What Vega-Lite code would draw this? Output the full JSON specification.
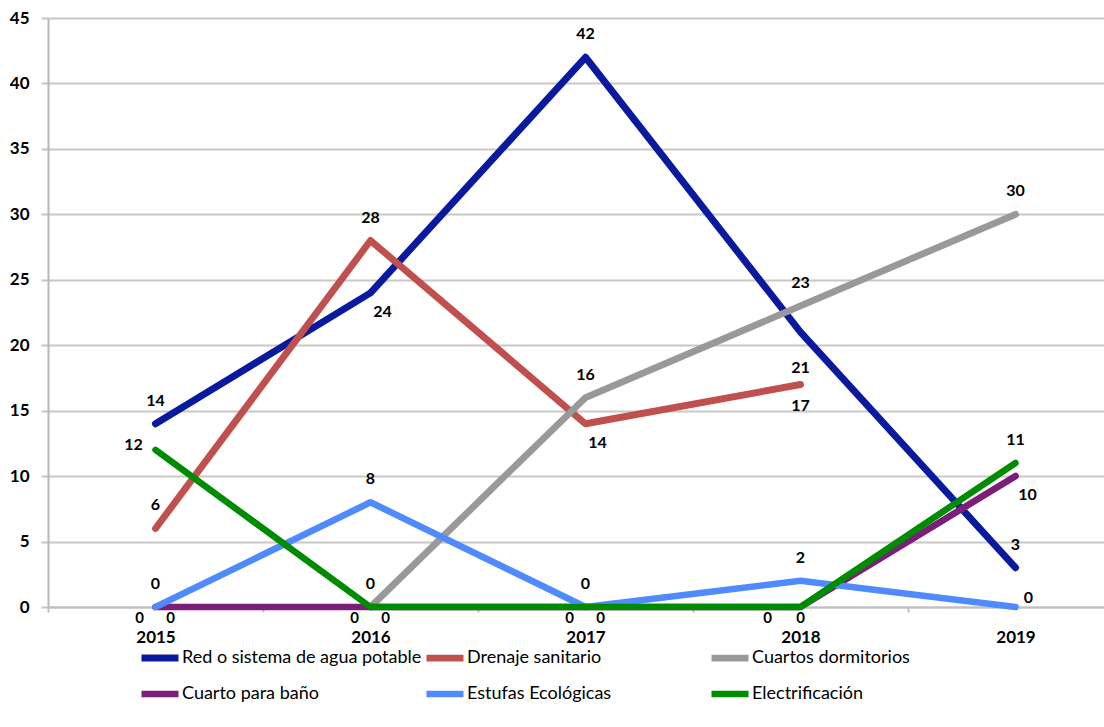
{
  "$schema": "https://vega.github.io/schema/vega-lite/v6.json",
  "width": 1056,
  "height": 589,
  "autosize": {"type": "none"},
  "padding": {"left": 48, "top": 18, "right": 0, "bottom": 120},
  "background": "white",
  "config": {
    "view": {"stroke": null},
    "font": "Lato",
    "text": {"font": "Lato"}
  },
  "data": {
    "values": [
      {"series": "Red o sistema de agua potable", "year": "2015", "value": 14},
      {"series": "Red o sistema de agua potable", "year": "2016", "value": 24},
      {"series": "Red o sistema de agua potable", "year": "2017", "value": 42},
      {"series": "Red o sistema de agua potable", "year": "2018", "value": 21},
      {"series": "Red o sistema de agua potable", "year": "2019", "value": 3},
      {"series": "Drenaje sanitario", "year": "2015", "value": 6},
      {"series": "Drenaje sanitario", "year": "2016", "value": 28},
      {"series": "Drenaje sanitario", "year": "2017", "value": 14},
      {"series": "Drenaje sanitario", "year": "2018", "value": 17},
      {"series": "Cuartos dormitorios", "year": "2015", "value": 0},
      {"series": "Cuartos dormitorios", "year": "2016", "value": 0},
      {"series": "Cuartos dormitorios", "year": "2017", "value": 16},
      {"series": "Cuartos dormitorios", "year": "2018", "value": 23},
      {"series": "Cuartos dormitorios", "year": "2019", "value": 30},
      {"series": "Cuarto para baño", "year": "2015", "value": 0},
      {"series": "Cuarto para baño", "year": "2016", "value": 0},
      {"series": "Cuarto para baño", "year": "2017", "value": 0},
      {"series": "Cuarto para baño", "year": "2018", "value": 0},
      {"series": "Cuarto para baño", "year": "2019", "value": 10},
      {"series": "Estufas Ecológicas", "year": "2015", "value": 0},
      {"series": "Estufas Ecológicas", "year": "2016", "value": 8},
      {"series": "Estufas Ecológicas", "year": "2017", "value": 0},
      {"series": "Estufas Ecológicas", "year": "2018", "value": 2},
      {"series": "Estufas Ecológicas", "year": "2019", "value": 0},
      {"series": "Electrificación", "year": "2015", "value": 12},
      {"series": "Electrificación", "year": "2016", "value": 0},
      {"series": "Electrificación", "year": "2017", "value": 0},
      {"series": "Electrificación", "year": "2018", "value": 0},
      {"series": "Electrificación", "year": "2019", "value": 11}
    ]
  },
  "encoding": {
    "x": {
      "field": "year",
      "type": "ordinal",
      "scale": {"type": "band", "range": [0, 1075], "paddingInner": 0, "paddingOuter": 0},
      "axis": {
        "title": null,
        "labelAngle": 0,
        "labelFontSize": 17,
        "labelFontWeight": "bold",
        "labelColor": "black",
        "labelPadding": 17,
        "tickBand": "extent",
        "tickSize": 5,
        "tickColor": "#c0c0c0",
        "tickWidth": 2,
        "domainColor": "#c0c0c0",
        "domainWidth": 2,
        "grid": false
      }
    },
    "y": {
      "field": "value",
      "type": "quantitative",
      "scale": {"domain": [0, 45], "nice": false},
      "axis": {
        "title": null,
        "values": [0, 5, 10, 15, 20, 25, 30, 35, 40, 45],
        "labelFontSize": 17,
        "labelFontWeight": "bold",
        "labelColor": "black",
        "labelPadding": 12,
        "tickSize": 7,
        "tickColor": "#c4c4c4",
        "tickWidth": 2,
        "domainColor": "#b8b8b8",
        "domainWidth": 2,
        "gridColor": "#c8c8c8",
        "gridWidth": 2
      }
    }
  },
  "layer": [
    {
      "transform": [{"filter": "!(datum.series == 'Cuartos dormitorios' && datum.year == '2015')"}],
      "mark": {"type": "line", "strokeCap": "round", "strokeJoin": "round"},
      "encoding": {
        "color": {
          "field": "series",
          "type": "nominal",
          "sort": null,
          "scale": {
            "domain": ["Red o sistema de agua potable", "Drenaje sanitario", "Cuartos dormitorios", "Cuarto para baño", "Estufas Ecológicas", "Electrificación"],
            "range": ["#0A1A9F", "#C0504D", "#999999", "#7B1E7A", "#4F8BFF", "#008C00"]
          },
          "legend": {
            "orient": "none",
            "legendX": 90,
            "legendY": 618,
            "direction": "horizontal",
            "columns": 3,
            "title": null,
            "symbolType": "stroke",
            "symbolSize": 1369,
            "symbolStrokeWidth": 7,
            "labelFontSize": 18,
            "labelColor": "black",
            "labelLimit": 400,
            "labelOffset": 0,
            "gridAlign": "all",
            "columnPadding": -10,
            "rowPadding": -3,
            "padding": 0
          }
        },
        "strokeWidth": {
          "field": "series",
          "type": "nominal",
          "scale": {
            "domain": ["Red o sistema de agua potable", "Drenaje sanitario", "Cuartos dormitorios", "Cuarto para baño", "Estufas Ecológicas", "Electrificación"],
            "range": [7, 6.5, 7, 5, 7, 6.5]
          },
          "legend": null
        }
      }
    },
    {
      "transform": [{"filter": "indexof(['Red o sistema de agua potable|2015','Red o sistema de agua potable|2017','Red o sistema de agua potable|2019','Drenaje sanitario|2015','Drenaje sanitario|2016','Cuartos dormitorios|2017','Cuartos dormitorios|2018','Cuartos dormitorios|2019','Estufas Ecológicas|2015','Estufas Ecológicas|2016','Estufas Ecológicas|2017','Estufas Ecológicas|2018','Electrificación|2016','Electrificación|2019'], datum.series + '|' + datum.year) >= 0"}],
      "mark": {"type": "text", "dy": -23, "fontWeight": "bold", "fontSize": 16, "color": "black", "baseline": "middle"},
      "encoding": {"text": {"field": "value", "type": "quantitative", "format": ".0f"}}
    },
    {
      "transform": [{"filter": "indexof(['Red o sistema de agua potable|2016','Drenaje sanitario|2017','Cuarto para baño|2019'], datum.series + '|' + datum.year) >= 0"}],
      "mark": {"type": "text", "dx": 12, "dy": 19, "fontWeight": "bold", "fontSize": 16, "color": "black", "baseline": "middle"},
      "encoding": {"text": {"field": "value", "type": "quantitative", "format": ".0f"}}
    },
    {
      "transform": [{"filter": "datum.series == 'Red o sistema de agua potable' && datum.year == '2018'"}],
      "mark": {"type": "text", "dy": 36, "fontWeight": "bold", "fontSize": 16, "color": "black", "baseline": "middle"},
      "encoding": {"text": {"field": "value", "type": "quantitative", "format": ".0f"}}
    },
    {
      "transform": [{"filter": "datum.series == 'Drenaje sanitario' && datum.year == '2018'"}],
      "mark": {"type": "text", "dy": 22, "fontWeight": "bold", "fontSize": 16, "color": "black", "baseline": "middle"},
      "encoding": {"text": {"field": "value", "type": "quantitative", "format": ".0f"}}
    },
    {
      "transform": [{"filter": "datum.series == 'Electrificación' && datum.year == '2015'"}],
      "mark": {"type": "text", "dx": -22, "dy": -5, "fontWeight": "bold", "fontSize": 16, "color": "black", "baseline": "middle"},
      "encoding": {"text": {"field": "value", "type": "quantitative", "format": ".0f"}}
    },
    {
      "transform": [{"filter": "datum.series == 'Estufas Ecológicas' && datum.year == '2019'"}],
      "mark": {"type": "text", "dx": 13, "dy": -9, "fontWeight": "bold", "fontSize": 16, "color": "black", "baseline": "middle"},
      "encoding": {"text": {"field": "value", "type": "quantitative", "format": ".0f"}}
    },
    {
      "transform": [{"filter": "indexof(['Cuarto para baño|2015','Cuarto para baño|2016','Cuarto para baño|2017'], datum.series + '|' + datum.year) >= 0"}],
      "mark": {"type": "text", "dx": -16, "dy": 11, "fontWeight": "bold", "fontSize": 15, "color": "black", "baseline": "middle"},
      "encoding": {"text": {"field": "value", "type": "quantitative", "format": ".0f"}}
    },
    {
      "transform": [{"filter": "indexof(['Cuartos dormitorios|2015','Cuartos dormitorios|2016','Electrificación|2017'], datum.series + '|' + datum.year) >= 0"}],
      "mark": {"type": "text", "dx": 15, "dy": 11, "fontWeight": "bold", "fontSize": 15, "color": "black", "baseline": "middle"},
      "encoding": {"text": {"field": "value", "type": "quantitative", "format": ".0f"}}
    },
    {
      "transform": [{"filter": "datum.series == 'Cuarto para baño' && datum.year == '2018'"}],
      "mark": {"type": "text", "dx": -33, "dy": 11, "fontWeight": "bold", "fontSize": 15, "color": "black", "baseline": "middle"},
      "encoding": {"text": {"field": "value", "type": "quantitative", "format": ".0f"}}
    },
    {
      "transform": [{"filter": "datum.series == 'Electrificación' && datum.year == '2018'"}],
      "mark": {"type": "text", "dx": 0, "dy": 11, "fontWeight": "bold", "fontSize": 15, "color": "black", "baseline": "middle"},
      "encoding": {"text": {"field": "value", "type": "quantitative", "format": ".0f"}}
    }
  ]
}
